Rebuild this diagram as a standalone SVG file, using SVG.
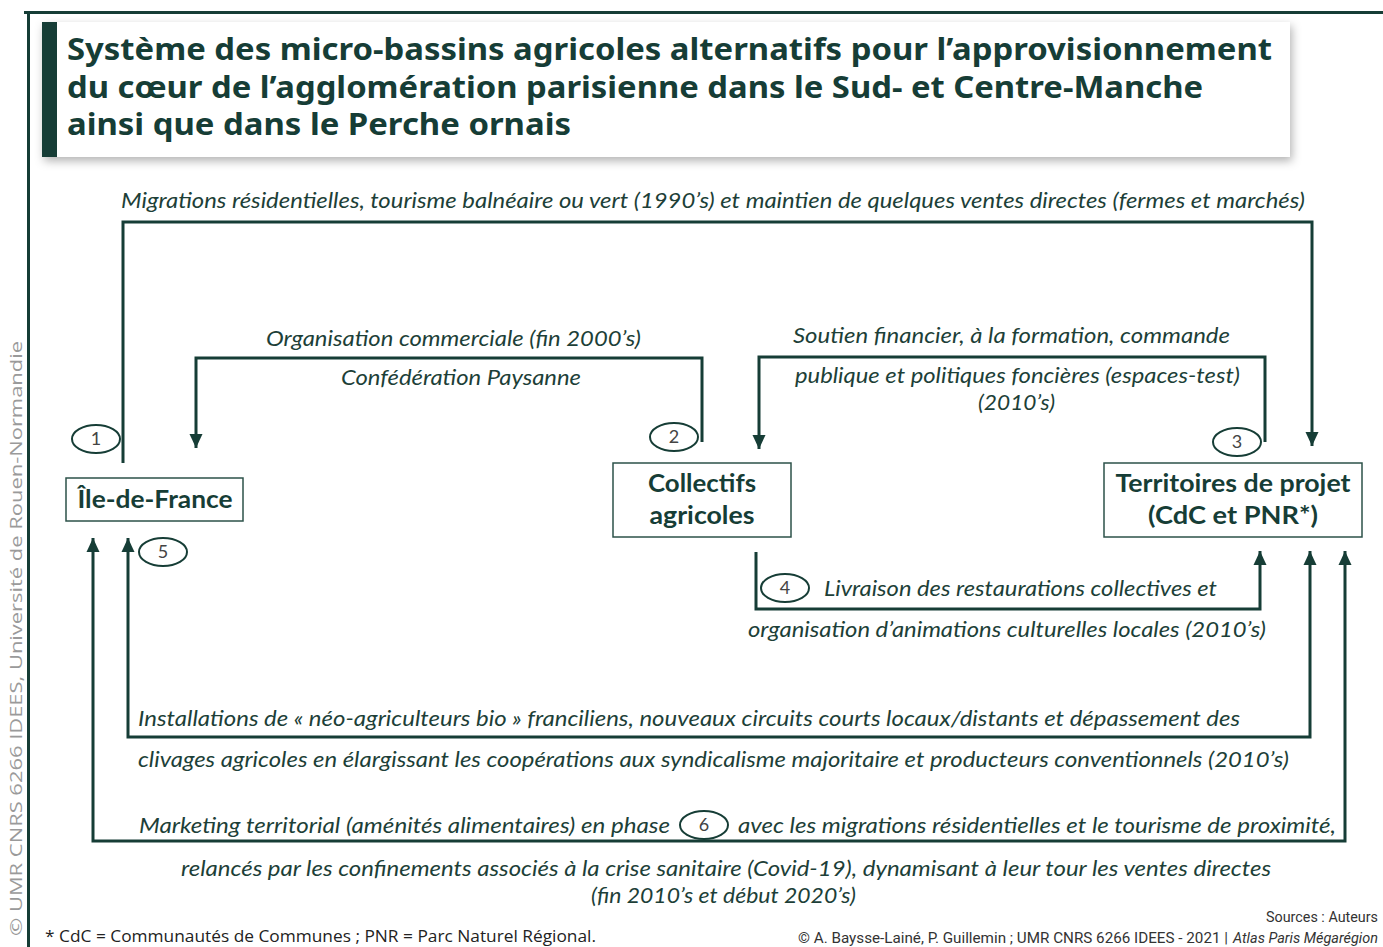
<svg xmlns="http://www.w3.org/2000/svg" width="1383" height="947" viewBox="0 0 1383 947">
<style>
.it{font-family:Lato,"Open Sans","Liberation Sans",sans-serif;font-style:italic;font-size:21px;fill:#1d3f38}
.nd{font-family:Lato,"Open Sans","Liberation Sans",sans-serif;font-weight:bold;font-size:24px;fill:#163d36;text-anchor:middle}
.box{fill:#fff;stroke:#2d5249;stroke-width:1.5}
.con{fill:none;stroke:#163d36;stroke-width:3}
.num ellipse{fill:#fff;stroke:#163d36;stroke-width:2}
.num text{font-family:Lato,"Liberation Sans",sans-serif;font-size:18px;fill:#444;text-anchor:middle}
.ttl{font-family:"Noto Sans","Open Sans",sans-serif;font-weight:bold;font-size:30px;fill:#163d36}
.ft{font-family:Roboto,"Liberation Sans",sans-serif;font-size:15px;fill:#333}
</style>
<defs>
<marker id="ah" viewBox="0 0 14 14" refX="14" refY="7" markerWidth="14" markerHeight="14" markerUnits="userSpaceOnUse" orient="auto-start-reverse">
<path d="M0,0.5 L14,7 L0,13.5 z" fill="#163d36"/>
</marker>
<filter id="sh" x="-5%" y="-20%" width="110%" height="150%">
<feDropShadow dx="2" dy="4" stdDeviation="5" flood-color="#000" flood-opacity="0.3"/>
</filter>
</defs>
<rect width="1383" height="947" fill="#fff"/>
<!-- frame -->
<rect x="24" y="11" width="1359" height="3" fill="#163d36"/>
<rect x="27" y="11" width="3" height="936" fill="#163d36"/>
<!-- title -->
<g id="title">
<rect x="42" y="22" width="1248" height="135" fill="#fff" filter="url(#sh)"/>
<rect x="42" y="22" width="15" height="135" fill="#163d36"/>
<text class="ttl" x="67" y="60" textLength="1205" lengthAdjust="spacingAndGlyphs">Système des micro-bassins agricoles alternatifs pour l’approvisionnement</text>
<text class="ttl" x="67" y="98" textLength="1136" lengthAdjust="spacingAndGlyphs">du cœur de l’agglomération parisienne dans le Sud- et Centre-Manche</text>
<text class="ttl" x="67" y="135" textLength="504" lengthAdjust="spacingAndGlyphs">ainsi que dans le Perche ornais</text>
</g>
<!-- side credit -->
<text x="0" y="0" transform="translate(22,936) rotate(-90)" font-family="'Open Sans','Liberation Sans',sans-serif" font-size="17" fill="#9a9a9a" textLength="595" lengthAdjust="spacingAndGlyphs">© UMR CNRS 6266 IDEES, Université de Rouen-Normandie</text>
<!-- connectors -->
<g id="connectors">
<path class="con" d="M123,463 V222 H1312 V446" marker-end="url(#ah)"/>
<path class="con" d="M702,442 V358 H196 V448" marker-end="url(#ah)"/>
<path class="con" d="M1265,442 V357 H759 V449" marker-end="url(#ah)"/>
<path class="con" d="M756,552 V609 H1260 V551" marker-end="url(#ah)"/>
<path class="con" d="M128,538 V737 H1310 V551" marker-start="url(#ah)" marker-end="url(#ah)"/>
<path class="con" d="M93,538 V841 H1345 V551" marker-start="url(#ah)" marker-end="url(#ah)"/>
</g>
<!-- connector labels -->
<g id="labels">
<text class="it" x="121" y="208" textLength="1184" lengthAdjust="spacingAndGlyphs">Migrations résidentielles, tourisme balnéaire ou vert (1990’s) et maintien de quelques ventes directes (fermes et marchés)</text>
<text class="it" x="266" y="346" textLength="375" lengthAdjust="spacingAndGlyphs">Organisation commerciale (fin 2000’s)</text>
<text class="it" x="341" y="385" textLength="240" lengthAdjust="spacingAndGlyphs">Confédération Paysanne</text>
<text class="it" x="793" y="343" textLength="437" lengthAdjust="spacingAndGlyphs">Soutien financier, à la formation, commande</text>
<text class="it" x="795" y="383" textLength="445" lengthAdjust="spacingAndGlyphs">publique et politiques foncières (espaces-test)</text>
<text class="it" x="978" y="410" textLength="77" lengthAdjust="spacingAndGlyphs">(2010’s)</text>
<text class="it" x="824" y="596" textLength="393" lengthAdjust="spacingAndGlyphs">Livraison des restaurations collectives et</text>
<text class="it" x="748" y="637" textLength="518" lengthAdjust="spacingAndGlyphs">organisation d’animations culturelles locales (2010’s)</text>
<text class="it" x="138" y="726" textLength="1102" lengthAdjust="spacingAndGlyphs">Installations de « néo-agriculteurs bio » franciliens, nouveaux circuits courts locaux/distants et dépassement des</text>
<text class="it" x="138" y="767" textLength="1151" lengthAdjust="spacingAndGlyphs">clivages agricoles en élargissant les coopérations aux syndicalisme majoritaire et producteurs conventionnels (2010’s)</text>
<text class="it" x="139" y="833" textLength="531" lengthAdjust="spacingAndGlyphs">Marketing territorial (aménités alimentaires) en phase</text>
<text class="it" x="738" y="833" textLength="598" lengthAdjust="spacingAndGlyphs">avec les migrations résidentielles et le tourisme de proximité,</text>
<text class="it" x="181" y="876" textLength="1090" lengthAdjust="spacingAndGlyphs">relancés par les confinements associés à la crise sanitaire (Covid-19), dynamisant à leur tour les ventes directes</text>
<text class="it" x="591" y="903" textLength="265" lengthAdjust="spacingAndGlyphs">(fin 2010’s et début 2020’s)</text>
</g>
<!-- numbers -->
<g class="num" id="n1"><ellipse cx="96" cy="439" rx="24" ry="14"/><text x="96" y="445">1</text></g>
<g class="num" id="n2"><ellipse cx="674" cy="437" rx="24" ry="14"/><text x="674" y="443">2</text></g>
<g class="num" id="n3"><ellipse cx="1237" cy="442" rx="24" ry="14"/><text x="1237" y="448">3</text></g>
<g class="num" id="n4"><ellipse cx="785" cy="588" rx="24" ry="14"/><text x="785" y="594">4</text></g>
<g class="num" id="n5"><ellipse cx="163" cy="552" rx="24" ry="14"/><text x="163" y="558">5</text></g>
<g class="num" id="n6"><ellipse cx="704" cy="825" rx="24" ry="14"/><text x="704" y="831">6</text></g>
<!-- nodes -->
<g id="ile-de-france">
<rect class="box" x="66" y="478" width="177" height="43"/>
<text class="nd" x="155" y="508" textLength="155" lengthAdjust="spacingAndGlyphs">Île-de-France</text>
</g>
<g id="collectifs-agricoles">
<rect class="box" x="613" y="463" width="178" height="74"/>
<text class="nd" x="702" y="492" textLength="108" lengthAdjust="spacingAndGlyphs">Collectifs</text>
<text class="nd" x="702" y="524" textLength="105" lengthAdjust="spacingAndGlyphs">agricoles</text>
</g>
<g id="territoires-de-projet">
<rect class="box" x="1104" y="463" width="258" height="74"/>
<text class="nd" x="1233" y="492" textLength="235" lengthAdjust="spacingAndGlyphs">Territoires de projet</text>
<text class="nd" x="1233" y="524" textLength="170" lengthAdjust="spacingAndGlyphs">(CdC et PNR*)</text>
</g>
<!-- footer -->
<text x="45" y="942" font-family="'Open Sans','Liberation Sans',sans-serif" font-size="16" fill="#222" textLength="551" lengthAdjust="spacingAndGlyphs">* CdC = Communautés de Communes ; PNR = Parc Naturel Régional.</text>
<text class="ft" x="1378" y="922" text-anchor="end" textLength="112" lengthAdjust="spacingAndGlyphs">Sources : Auteurs</text>
<text class="ft" x="798" y="943" textLength="430" lengthAdjust="spacingAndGlyphs">© A. Baysse-Lainé, P. Guillemin ; UMR CNRS 6266 IDEES - 2021 |</text>
<text class="ft" x="1233" y="943" font-style="italic" textLength="145" lengthAdjust="spacingAndGlyphs">Atlas Paris Mégarégion</text>
</svg>
